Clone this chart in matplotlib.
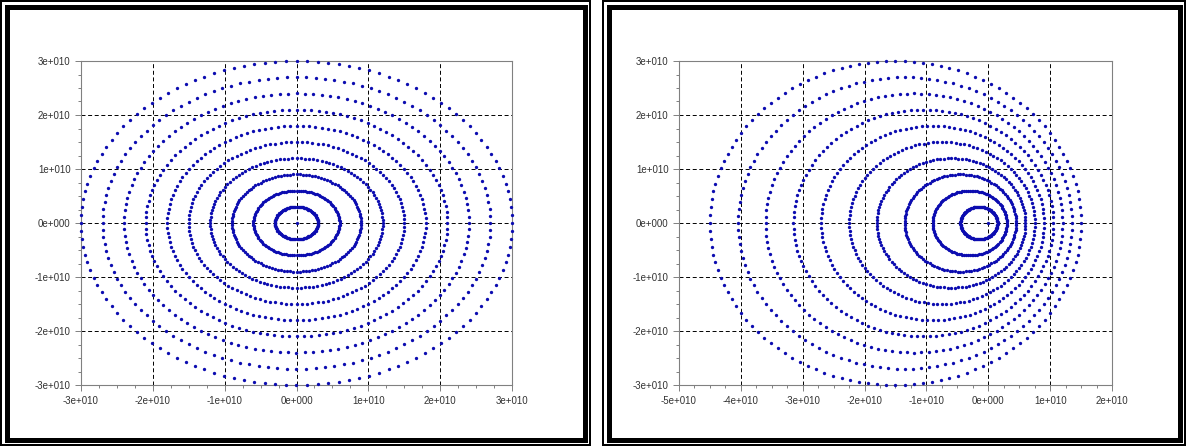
import numpy as np
import matplotlib.pyplot as plt
from matplotlib.patches import Rectangle
from matplotlib.ticker import AutoMinorLocator

plt.rcParams['font.family'] = ['Liberation Sans', 'DejaVu Sans']

# orbit rings (radius, x of centre), same radii in both panels
radii = [3e9, 6e9, 9e9, 1.2e10, 1.5e10, 1.8e10, 2.1e10, 2.4e10, 2.7e10, 3e10]
left_centres = [0, 0, 0, 0, 0, 0, 0, 0, 0, 0]
right_centres = [-1.5e9, -3e9, -4.5e9, -6e9, -7.5e9, -9e9, -1.05e10, -1.2e10, -1.35e10, -1.5e10]
points_per_ring = 128

left_xticks = [-3e10, -2e10, -1e10, 0, 1e10, 2e10, 3e10]
left_xlabels = ["-3e+010", "-2e+010", "-1e+010", "0e+000", "1e+010", "2e+010", "3e+010"]
right_xticks = [-5e10, -4e10, -3e10, -2e10, -1e10, 0, 1e10, 2e10]
right_xlabels = ["-5e+010", "-4e+010", "-3e+010", "-2e+010", "-1e+010", "0e+000", "1e+010", "2e+010"]
yticks = [-3e10, -2e10, -1e10, 0, 1e10, 2e10, 3e10]
ylabels = ["-3e+010", "-2e+010", "-1e+010", "0e+000", "1e+010", "2e+010", "3e+010"]

W, H = 1186, 446
fig = plt.figure(figsize=(W / 100, H / 100), dpi=100)
PT = 0.72  # points per pixel


def frame(x0, x1):
    # double border: thin outer line, thick inner line
    for inset, lw in [(1, 2), (6.5, 5)]:
        fig.patches.append(Rectangle(((x0 + inset) / W, inset / H),
                                     (x1 - x0 - 2 * inset) / W, (H - 2 * inset) / H,
                                     transform=fig.transFigure, fill=False,
                                     edgecolor='black', linewidth=lw * PT))


frame(0, 591)
frame(602, 1186)


def panel(left_px, width_px, centres, xticks, xlabels, xlim):
    ax = fig.add_axes([left_px / W, (H - 385) / H, width_px / W, 324 / H])
    theta = np.linspace(0, 2 * np.pi, points_per_ring, endpoint=False)
    for r, c in zip(radii, centres):
        ax.plot(c + r * np.cos(theta), r * np.sin(theta), 'o', ms=2.4,
                color='#0c0cb0', mec='none', clip_on=False, zorder=3)
    ax.plot([0], [0], 'o', ms=2.4, color='#0c0cb0', mec='none', zorder=3)
    ax.set_xlim(xlim)
    ax.set_ylim(-3e10, 3e10)
    ax.set_xticks(xticks)
    ax.set_xticklabels(xlabels)
    ax.set_yticks(yticks)
    ax.set_yticklabels(ylabels)
    ax.xaxis.set_minor_locator(AutoMinorLocator(4))
    ax.yaxis.set_minor_locator(AutoMinorLocator(4))
    ax.set_axisbelow(True)
    ax.grid(True, which='major', color='black', linewidth=0.7,
            linestyle=(0, (4.1, 2.7)))
    for s in ax.spines.values():
        s.set_color('#808080')
        s.set_linewidth(0.8)
    ax.tick_params(which='both', direction='out', color='#808080', width=0.7,
                   labelsize=7, labelcolor='#333333')
    ax.tick_params(which='major', length=4)
    ax.tick_params(which='minor', length=2.5)
    ax.tick_params(axis='x', pad=4)
    ax.tick_params(axis='y', pad=3.5)
    return ax


panel(81, 431, left_centres, left_xticks, left_xlabels, (-3e10, 3e10))
panel(679, 433, right_centres, right_xticks, right_xlabels, (-5e10, 2e10))

fig.savefig("out.png", dpi=100)
